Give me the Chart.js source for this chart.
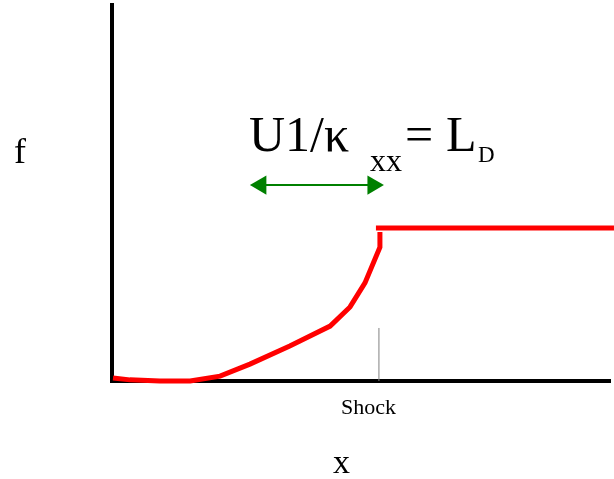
<!DOCTYPE html>
<html>
<head>
<meta charset="utf-8">
<script src="https://cdn.jsdelivr.net/npm/chart.js@4/dist/chart.umd.min.js"></script>
<style>
  html, body { margin: 0; padding: 0; background: #fff; overflow: hidden; }
  canvas { display: block; }
</style>
</head>
<body>
<canvas id="grafica" width="614" height="479"></canvas>
<script>
// curve f(x) before the shock
const curveX = [0.2, 3.6, 9.6, 15.7, 21.7, 27.7, 35.7, 43.8, 47.8, 50.8, 53.8, 53.8];
const curveY = [0.8, 0.3, 0, 0, 1.3, 4.5, 9.3, 14.6, 19.7, 26.1, 35.6, 39.6];
// flat part after the shock
const flatX = [53.0, 100.8];
const flatY = [40.7, 40.7];
// shock marker
const shockX = [53.6, 53.6];
const shockY = [0, 14.1];
// diffusion length arrow
const arrowX = [29.9, 52.4];
const arrowY = [52.1, 52.1];

const toPts = (xs, ys) => xs.map((x, i) => ({x: x, y: ys[i]}));

const serif = "'Liberation Serif', 'DejaVu Serif', serif";

const labelsPlugin = {
  id: 'labels',
  afterDraw(chart) {
    const ctx = chart.ctx;
    ctx.save();
    ctx.fillStyle = '#000';
    ctx.textBaseline = 'alphabetic';
    ctx.textAlign = 'left';
    ctx.font = '36px ' + serif;
    ctx.fillText('f', 14, 163);
    ctx.font = '34px ' + serif;
    ctx.fillText('x', 333, 473);
    ctx.font = '22px ' + serif;
    ctx.fillText('Shock', 341, 414);
    ctx.font = '50px ' + serif;
    ctx.fillText('U1/κ', 249, 151);
    ctx.font = '32px ' + serif;
    ctx.fillText('xx', 370, 171);
    ctx.font = '50px ' + serif;
    ctx.fillText('=', 405, 151);
    ctx.fillText('L', 446, 151);
    ctx.font = '23px ' + serif;
    ctx.fillText('D', 478, 162);
    ctx.restore();
  }
};

const graph = document.querySelector('#grafica');

new Chart(graph, {
  type: 'line',
  data: {
    datasets: [
      {
        data: toPts(shockX, shockY),
        borderColor: '#808080',
        borderWidth: 1,
        pointRadius: 0,
        clip: false
      },
      {
        data: toPts(arrowX, arrowY),
        borderColor: '#008000',
        borderWidth: 2,
        pointStyle: 'triangle',
        pointRadius: 11,
        pointRotation: [270, 90],
        pointBackgroundColor: '#008000',
        pointBorderColor: '#008000',
        pointBorderWidth: 0,
        clip: false
      },
      {
        data: toPts(curveX, curveY),
        borderColor: '#ff0000',
        borderWidth: 5,
        pointRadius: 0,
        tension: 0,
        clip: false
      },
      {
        data: toPts(flatX, flatY),
        borderColor: '#ff0000',
        borderWidth: 5,
        pointRadius: 0,
        clip: false
      }
    ]
  },
  options: {
    responsive: false,
    animation: false,
    events: [],
    layout: { autoPadding: false, padding: { left: 112, top: 5, right: 4, bottom: 98 } },
    plugins: { legend: { display: false }, tooltip: { enabled: false } },
    scales: {
      x: {
        type: 'linear',
        min: 0,
        max: 100,
        ticks: { display: false },
        grid: { display: false, drawTicks: false },
        border: { display: true, color: '#000', width: 4 }
      },
      y: {
        type: 'linear',
        min: 0,
        max: 100,
        ticks: { display: false },
        grid: { display: false, drawTicks: false },
        border: { display: true, color: '#000', width: 4 }
      }
    }
  },
  plugins: [labelsPlugin]
});
</script>
</body>
</html>
